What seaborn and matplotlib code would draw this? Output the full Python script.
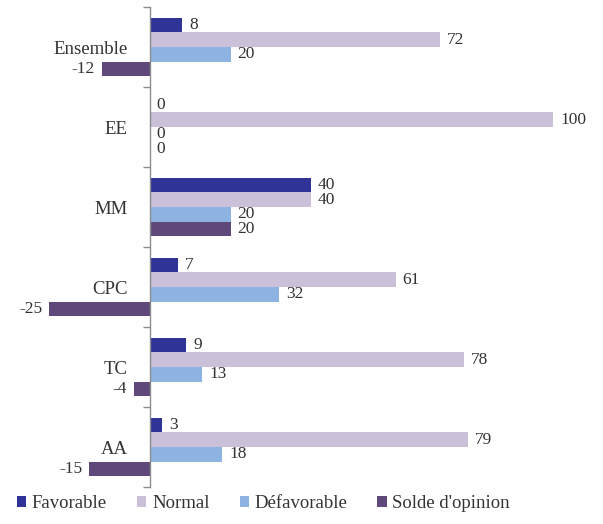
import matplotlib
matplotlib.use("Agg")
import matplotlib.pyplot as plt
from matplotlib.patches import Patch
from matplotlib.ticker import FixedLocator
import seaborn as sns
import pandas as pd

categories = ["Ensemble", "EE", "MM", "CPC", "TC", "AA"]
series = ["Favorable", "Normal", "Défavorable", "Solde d'opinion"]
favorable = [8, 0, 40, 7, 9, 3]
normal = [72, 100, 40, 61, 78, 79]
defavorable = [20, 0, 20, 32, 13, 18]
solde = [-12, 0, 20, -25, -4, -15]
colors = ["#2f3397", "#cbc0da", "#8db3e2", "#5f497a"]

rows = []
for name, vals in zip(series, [favorable, normal, defavorable, solde]):
    for cat, v in zip(categories, vals):
        rows.append({"categorie": cat, "serie": name, "valeur": v})
data = pd.DataFrame(rows)

sns.set_style("white")
plt.rcParams["font.family"] = ["Liberation Serif", "DejaVu Serif"]
text_color = "#333333"

fig = plt.figure(figsize=(6.03, 5.24), dpi=100)
ax = fig.add_axes([0.0166, 0.0706, 0.962, 0.916])

sns.barplot(
    data=data,
    x="valeur",
    y="categorie",
    hue="serie",
    order=categories,
    hue_order=series,
    palette=colors,
    orient="h",
    width=0.73,
    saturation=1,
    edgecolor="none",
    legend=False,
    ax=ax,
)

for container in ax.containers:
    ax.bar_label(container, fmt="%d", padding=5, fontsize=12.5, color=text_color)

ax.set_xlim(-34.7, 109.2)
ax.set_ylim(len(categories) - 0.5, -0.5)
ax.set_xlabel("")
ax.set_ylabel("")
ax.set_xticks([])

for side in ["top", "right", "bottom"]:
    ax.spines[side].set_visible(False)
ax.spines["left"].set_position(("data", 0))
ax.spines["left"].set_color("#8c8c8c")
ax.spines["left"].set_linewidth(1)

ax.yaxis.set_minor_locator(FixedLocator([i - 0.5 for i in range(len(categories) + 1)]))
ax.tick_params(axis="y", which="major", length=0, pad=16, labelsize=13.5, labelcolor=text_color)
ax.tick_params(axis="y", which="minor", length=5, width=1, color="#8c8c8c", direction="out", left=True)

handles = [Patch(facecolor=c, edgecolor="none") for c in colors]
fig.legend(
    handles=handles,
    labels=series,
    loc="lower left",
    bbox_to_anchor=(0.0, -0.01),
    ncol=4,
    frameon=False,
    fontsize=13.5,
    handlelength=0.5,
    handleheight=0.5,
    handletextpad=0.3,
    columnspacing=1.6,
    labelcolor=text_color,
)

fig.savefig("out.png", dpi=100)
